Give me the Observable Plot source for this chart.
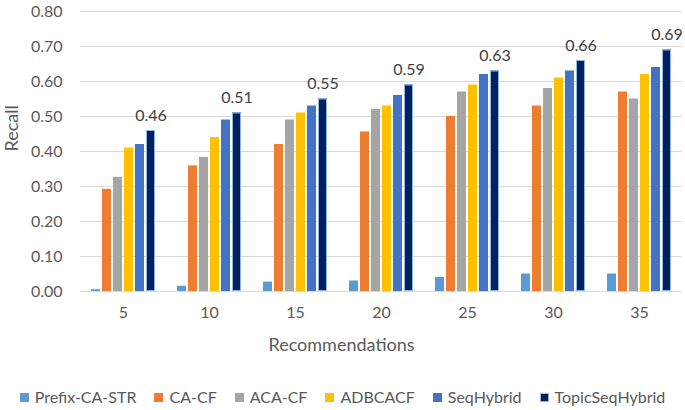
<!DOCTYPE html>
<html>
<head>
<meta charset="utf-8">
<script src="https://cdn.jsdelivr.net/npm/d3@7"></script>
<script src="https://cdn.jsdelivr.net/npm/@observablehq/plot@0.6"></script>
<style>
  html, body { margin: 0; padding: 0; background: #fff; }
  body { width: 685px; height: 410px; overflow: hidden; font-family: Lato, "Open Sans", sans-serif; }
  #legend { display: flex; justify-content: center; align-items: center; margin-top: 23px; font-size: 16px; color: #595959; padding-left: 0px; line-height: 18px; }
  #legend .item { display: flex; align-items: center; margin: 0 9px; }
  #legend .sw { width: 9px; height: 9px; margin-right: 6px; box-sizing: border-box; }
</style>
</head>
<body>
<div id="chart"></div>
<div id="legend"></div>
<script>
const categories = [5, 10, 15, 20, 25, 30, 35];
const series = ["Prefix-CA-STR", "CA-CF", "ACA-CF", "ADBCACF", "SeqHybrid", "TopicSeqHybrid"];
const colors = ["#5B9BD5", "#ED7D31", "#A5A5A5", "#FFC000", "#4472C4", "#002060"];
const prefixCASTR = [0.005, 0.015, 0.027, 0.03, 0.04, 0.05, 0.05];
const caCF = [0.292, 0.359, 0.42, 0.456, 0.50, 0.53, 0.57];
const acaCF = [0.326, 0.383, 0.49, 0.52, 0.57, 0.58, 0.55];
const adbcacf = [0.41, 0.44, 0.51, 0.53, 0.59, 0.61, 0.62];
const seqHybrid = [0.42, 0.49, 0.53, 0.56, 0.62, 0.63, 0.64];
const topicSeqHybrid = [0.46, 0.51, 0.55, 0.59, 0.63, 0.66, 0.69];
const yTicks = [0, 0.1, 0.2, 0.3, 0.4, 0.5, 0.6, 0.7, 0.8];
const yLabel = "Recall";
const xLabel = "Recommendations";

const valuesBySeries = [prefixCASTR, caCF, acaCF, adbcacf, seqHybrid, topicSeqHybrid];
const data = [];
categories.forEach((c, i) => {
  series.forEach((s, j) => data.push({rec: c, series: s, value: valuesBySeries[j][i]}));
});
const topicData = data.filter(d => d.series === "TopicSeqHybrid");

const textColor = "#595959";
const chart = Plot.plot({
  width: 685,
  height: 365,
  marginTop: 11,
  marginBottom: 74,
  marginLeft: 78,
  marginRight: 2,
  style: {fontFamily: "Lato, 'Open Sans', sans-serif", color: textColor, background: "#fff"},
  fx: {domain: categories, padding: 0},
  x: {domain: series, paddingInner: 0.21, paddingOuter: 0.895, axis: null},
  y: {domain: [0, 0.8]},
  color: {domain: series, range: colors},
  marks: [
    Plot.gridY(yTicks, {stroke: "#d9d9d9", strokeOpacity: 1, strokeWidth: 1.2}),
    Plot.barY(data, {fx: "rec", x: "series", y: "value", fill: "series"}),
    Plot.barY(topicData, {fx: "rec", x: "series", y: "value", fill: "none", stroke: "#8DB8E2", strokeWidth: 1, inset: 0.5}),
    Plot.text(topicData, {fx: "rec", x: "series", y: "value", text: d => d.value.toFixed(2), lineAnchor: "bottom", dy: -10, fontSize: 16, fill: "#404040"}),
    Plot.axisY({ticks: yTicks, tickFormat: d => d.toFixed(2), tickSize: 0, tickPadding: 18, fontSize: 16, label: null}),
    Plot.axisFx({anchor: "bottom", tickSize: 0, tickPadding: 15, fontSize: 16, label: null}),
    Plot.text([{rec: categories[0]}], {fx: "rec", text: () => yLabel, frameAnchor: "left", rotate: -90, dx: -68, fontSize: 18, fill: textColor}),
    Plot.text([{rec: categories[3]}], {fx: "rec", text: () => xLabel, frameAnchor: "bottom", dx: -40, dy: 59, fontSize: 18, fill: textColor})
  ]
});
document.getElementById("chart").appendChild(chart);

const legend = document.getElementById("legend");
series.forEach((s, j) => {
  const item = document.createElement("div");
  item.className = "item";
  const sw = document.createElement("div");
  sw.className = "sw";
  sw.style.background = colors[j];
  if (s === "TopicSeqHybrid") sw.style.border = "1px solid #8DB8E2";
  const t = document.createElement("span");
  t.textContent = s;
  item.appendChild(sw);
  item.appendChild(t);
  legend.appendChild(item);
});
</script>
</body>
</html>
